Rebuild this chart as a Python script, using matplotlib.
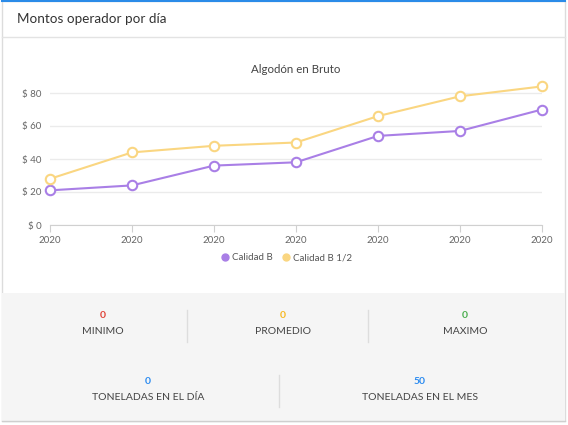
import matplotlib
matplotlib.use("Agg")
import matplotlib.pyplot as plt
from matplotlib.patches import Rectangle
from matplotlib.lines import Line2D

plt.rcParams['font.family'] = ['Lato', 'DejaVu Sans']

# data
labels = ["2020"] * 7
calidad_b = [21, 24, 36, 38, 54, 57, 70]
calidad_b12 = [28, 44, 48, 50, 66, 78, 84]
yticks = [0, 20, 40, 60, 80]

stats_top = [("0", "MINIMO", "#e0453a"), ("0", "PROMEDIO", "#f7b924"), ("0", "MAXIMO", "#4caf50")]
stats_bottom = [("0", "TONELADAS EN EL DÍA", "#2d8cf0"), ("50", "TONELADAS EN EL MES", "#2d8cf0")]

purple = "#a97fe6"
yellow = "#fad681"

W, H = 568, 425
fig = plt.figure(figsize=(W / 100, H / 100), dpi=100)

# card background, drawn in pixel coords
bg = fig.add_axes([0, 0, 1, 1])
bg.set_xlim(0, W)
bg.set_ylim(H, 0)
bg.axis("off")
bg.add_patch(Rectangle((2, 1), 563, 420, facecolor="white", edgecolor="#dcdcdc", lw=1))
bg.add_patch(Rectangle((2, 293), 563, 128, facecolor="#f5f5f5", edgecolor="none"))
bg.plot([2, 565], [1, 1], color="#2b8be8", lw=1.5)
bg.plot([2, 565], [37, 37], color="#e3e3e3", lw=1)
bg.plot([2, 565], [421, 421], color="#cfcfcf", lw=1)
bg.text(17, 19, "Montos operador por día", fontsize=9.7, color="#333333", va="center")

for (num, lab, col), cx in zip(stats_top, [103, 283, 465]):
    bg.text(cx, 316, num, color=col, fontsize=7.5, fontweight="bold", ha="center", va="center")
    bg.text(cx, 332, lab, color="#444444", fontsize=7.5, ha="center", va="center")
for x in [187, 368]:
    bg.plot([x, x], [310, 342], color="#dddddd", lw=1)

for (num, lab, col), cx in zip(stats_bottom, [148, 420]):
    bg.text(cx, 381, num, color=col, fontsize=7.5, fontweight="bold", ha="center", va="center")
    bg.text(cx, 397, lab, color="#444444", fontsize=7.5, ha="center", va="center")
bg.plot([279, 279], [375, 407], color="#dddddd", lw=1)

bg.text(296, 69, "Algodón en Bruto", fontsize=8.3, color="#444444", ha="center", va="center")

# chart area
ymax = 85
ppu = 1.65
ax = fig.add_axes([50 / W, (H - 225) / H, 492 / W, ymax * ppu / H])
x = list(range(len(labels)))
ax.plot(x, calidad_b, color=purple, lw=1.5, marker="o", ms=6.8, mfc="white", mec=purple, mew=1.5, clip_on=False, zorder=3)
ax.plot(x, calidad_b12, color=yellow, lw=1.5, marker="o", ms=6.8, mfc="white", mec=yellow, mew=1.5, clip_on=False, zorder=3)
ax.set_xlim(0, 6)
ax.set_ylim(0, ymax)
ax.set_yticks(yticks)
ax.set_yticklabels(["$ %d" % v for v in yticks], fontsize=7, color="#666666")
ax.set_xticks(x)
ax.set_xticklabels(labels, fontsize=7, color="#666666")
ax.tick_params(axis="y", length=0, pad=6)
ax.tick_params(axis="x", length=5, color="#d0d0d0", pad=3)
ax.grid(axis="y", color="#ebebeb", lw=1)
ax.set_axisbelow(True)
for s in ["top", "right", "left"]:
    ax.spines[s].set_visible(False)
ax.spines["bottom"].set_color("#d0d0d0")
ax.patch.set_alpha(0)

handles = [Line2D([], [], color=purple, marker="o", ls="none", ms=5),
           Line2D([], [], color=yellow, marker="o", ls="none", ms=5)]
fig.legend(handles, ["Calidad B", "Calidad B 1/2"], loc="center", bbox_to_anchor=(286 / W, (H - 258) / H),
           ncol=2, frameon=False, fontsize=7, handletextpad=0.2, columnspacing=0.9,
           labelcolor="#555555", handlelength=1)

fig.savefig("out.png", dpi=100)
